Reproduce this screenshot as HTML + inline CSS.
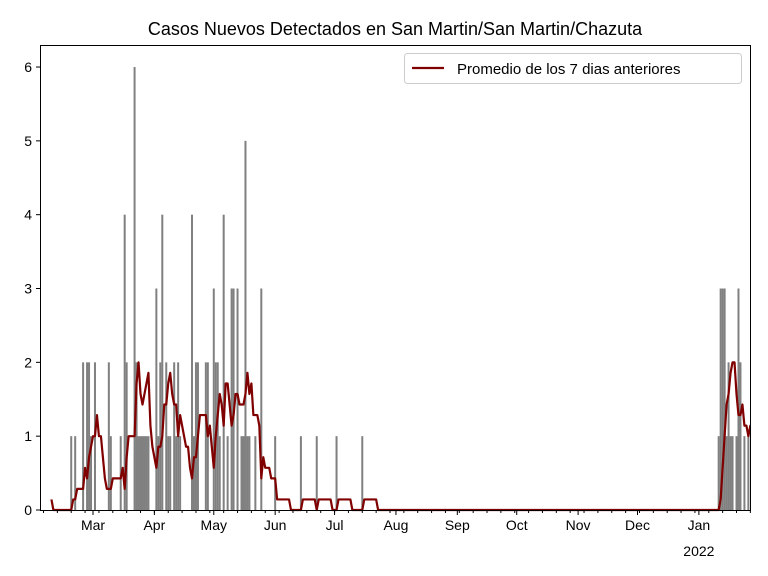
<!DOCTYPE html>
<html><head><meta charset="utf-8"><style>
body{margin:0;background:#fff;}
svg{display:block;font-family:"Liberation Sans","DejaVu Sans",sans-serif;}
</style></head><body>
<svg id="s" width="768" height="576" xmlns="http://www.w3.org/2000/svg">
<defs><clipPath id="c"><rect x="40.5" y="45.5" width="710" height="470"/></clipPath></defs>
<rect width="768" height="576" fill="#fff"/>
<text x="395" y="35" font-size="18" text-anchor="middle">Casos Nuevos Detectados en San Martin/San Martin/Chazuta</text>
<g id="bars" clip-path="url(#c)"></g>
<path id="line" clip-path="url(#c)" fill="none" stroke="#800000" stroke-width="2.2" stroke-linejoin="round"/>
<rect x="40.5" y="45.5" width="710" height="465" fill="none" stroke="#000" stroke-width="1"/>
<g id="ax" font-size="14"></g>
<g>
<rect x="404.5" y="53.5" width="337" height="30" rx="3" fill="#fff" stroke="#ccc"/>
<line x1="412" y1="68" x2="444" y2="68" stroke="#800000" stroke-width="2.2"/>
<text x="457" y="74" font-size="15">Promedio de los 7 dias anteriores</text>
</g>
</svg>
<script>
const X=d=>37.56+1.98*d, Y=v=>510-v*73.83;
const pts=[[72,1],[75,1],[84,2],[87,2],[89,2],[91,1],[94,2],[109,2],[110,1],[120,1],[125,4],[127,2],[135,6],[137,2],[139,1],[141,1],[143,1],[145,1],[147,1],[149,1],[156,3],[158,1],[160,2],[163,4],[166,2],[168,1],[170,1],[175,2],[177,1],[179,2],[181,1],[192,4],[194,1],[196,2],[198,2],[205,2],[207,2],[213,3],[215,2],[217,2],[220,1],[224,4],[228,1],[232,3],[234,3],[238,3],[241,1],[243,1],[245,5],[247,1],[250,1],[256,1],[261,3],[275,1],[301,1],[316,1],[336,1],[362,1],[718,1],[720,3],[722,3],[724,3],[726,1],[729,2],[731,1],[733,1],[736,1],[738,3],[741,2],[745,1],[748,1]];
const N=362,data=new Array(N).fill(0);
pts.forEach(([x,v])=>{const d=Math.round((x-37.56)/1.98);data[d]=v;});
let b='';
for(let d=0;d<N;d++){if(data[d]>0){b+=`<rect x="${(X(d)-1).toFixed(2)}" y="${Y(data[d]).toFixed(2)}" width="2" height="${(data[d]*73.83).toFixed(2)}" fill="#808080"/>`;}}
document.getElementById('bars').innerHTML=b;
let p='';const st=Math.round((52-37.56)/1.98);
for(let d=st;d<N;d++){let s=0;for(let k=d-7;k<d;k++)if(k>=0)s+=data[k];
if(d==st)s=1;const a=s/7;p+=(d==st?'M':'L')+X(d).toFixed(2)+','+Y(a).toFixed(2);}
document.getElementById('line').setAttribute('d',p);
let a='';
for(let v=0;v<=6;v++){const y=Y(v);a+=`<line x1="36" x2="40.5" y1="${y}" y2="${y}" stroke="#000"/><text x="32" y="${y+5}" text-anchor="end">${v}</text>`;}
const m=[['Mar',28],['Apr',59],['May',89],['Jun',120],['Jul',150],['Aug',181],['Sep',212],['Oct',242],['Nov',273],['Dec',303],['Jan',334]];
m.forEach(([t,d])=>{const x=X(d);a+=`<line x1="${x}" x2="${x}" y1="510.5" y2="515" stroke="#000"/><text x="${x}" y="530" text-anchor="middle">${t}</text>`;});
a+=`<text x="${X(334)}" y="556" text-anchor="middle">2022</text>`;
for(let d=3;d<N;d+=7){const x=X(d);a+=`<line x1="${x}" x2="${x}" y1="510.5" y2="513" stroke="#000"/>`;}
document.getElementById('ax').innerHTML=a;
</script>
</body></html>
